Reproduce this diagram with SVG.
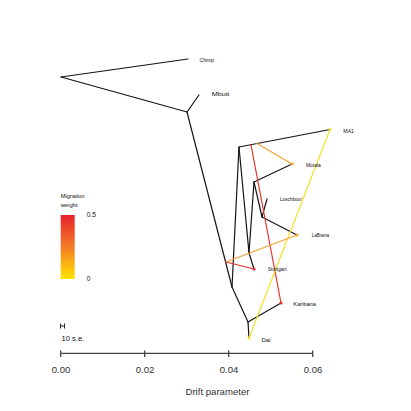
<svg xmlns="http://www.w3.org/2000/svg" width="411" height="411" viewBox="0 0 411 411">
<defs>
<linearGradient id="migGrad" x1="0" y1="0" x2="0" y2="1">
<stop offset="0" stop-color="#E8222C"/>
<stop offset="0.5" stop-color="#F47C28"/>
<stop offset="1" stop-color="#FFE400"/>
</linearGradient>
</defs>
<style>
.edge{stroke:#151515;stroke-width:1.2;fill:none;stroke-linecap:round}
.mig{stroke-width:1.2;fill:none;stroke-linecap:round}
.red{stroke:#E8302C}
.org{stroke:#F2A332}
.yel{stroke:#F8E02A}
.tip{font-family:"Liberation Sans",Arial,sans-serif;font-size:5.6px;fill:#111}
.leg{font-family:"Liberation Sans",Arial,sans-serif;font-size:5.8px;fill:#111}
.axt{font-family:"Liberation Sans",Arial,sans-serif;font-size:9.6px;fill:#333;text-anchor:middle}
.axis{stroke:#444;stroke-width:1.3;fill:none}
</style>
<rect width="411" height="411" fill="#ffffff"/>

<g id="connectors">
<line class="edge" x1="61" y1="77" x2="188" y2="59"/>
<line class="edge" x1="61" y1="77" x2="187" y2="112"/>
<line class="edge" x1="187" y1="112" x2="199" y2="95"/>
<line class="edge" x1="187" y1="112" x2="232" y2="287"/>
<line class="edge" x1="232" y1="287" x2="248" y2="322"/>
<line class="edge" x1="248" y1="322" x2="249" y2="338"/>
<line class="edge" x1="248" y1="322" x2="281" y2="303"/>
<line class="edge" x1="232" y1="287" x2="239" y2="147"/>
<line class="edge" x1="239" y1="147" x2="330" y2="129.5"/>
<line class="edge" x1="239" y1="147" x2="249" y2="253"/>
<line class="edge" x1="249" y1="253" x2="254" y2="269"/>
<line class="edge" x1="249" y1="253" x2="254" y2="182"/>
<line class="edge" x1="254" y1="182" x2="292" y2="164"/>
<line class="edge" x1="254" y1="182" x2="262" y2="217"/>
<line class="edge" x1="262" y1="217" x2="267" y2="199"/>
<line class="edge" x1="262" y1="217" x2="297" y2="235"/>
<line class="mig red" x1="251" y1="145" x2="281" y2="303"/>
<line class="mig org" x1="257" y1="143.5" x2="292" y2="164"/>
<line class="mig yel" x1="330" y1="129.5" x2="249" y2="338"/>
<line class="mig org" x1="297" y1="235" x2="226" y2="262"/>
<line class="mig red" x1="226" y1="262" x2="254" y2="269"/>
</g>

<g id="node-chimp"><text class="tip" x="199.5" y="62" textLength="14.7" lengthAdjust="spacingAndGlyphs">Chimp</text></g>
<g id="node-mbuti"><text class="tip" x="211.7" y="96.3" textLength="17.7" lengthAdjust="spacingAndGlyphs">Mbuti</text></g>
<g id="node-ma1"><circle cx="330" cy="129.5" r="1.4" fill="#F8D82A"/><text class="tip" x="343.3" y="132.5" textLength="10.7" lengthAdjust="spacingAndGlyphs">MA1</text></g>
<g id="node-motala"><circle cx="292" cy="164" r="1.6" fill="#F2A332"/><text class="tip" x="306" y="167" textLength="14.7" lengthAdjust="spacingAndGlyphs">Motala</text></g>
<g id="node-loschbour"><text class="tip" x="280" y="201.3" textLength="21.7" lengthAdjust="spacingAndGlyphs">Loschbour</text></g>
<g id="node-labrana"><circle cx="297" cy="235" r="1.6" fill="#F2A332"/><text class="tip" x="311.7" y="236.7" textLength="17.3" lengthAdjust="spacingAndGlyphs">LaBrana</text></g>
<g id="node-stuttgart"><circle cx="254" cy="269" r="1.6" fill="#E8302C"/><text class="tip" x="267.7" y="271.3" textLength="19" lengthAdjust="spacingAndGlyphs">Stuttgart</text></g>
<g id="node-karitiana"><circle cx="281" cy="303" r="1.6" fill="#E8302C"/><text class="tip" x="293.3" y="306.3" textLength="22.7" lengthAdjust="spacingAndGlyphs">Karitiana</text></g>
<g id="node-dai"><circle cx="249" cy="338" r="1.6" fill="#F8E02A"/><text class="tip" x="261.5" y="342" textLength="9" lengthAdjust="spacingAndGlyphs">Dai</text></g>

<g id="legend">
<text class="leg" x="60.7" y="197.7">Migration</text>
<text class="leg" x="60.7" y="207">weight</text>
<rect x="60.7" y="215" width="14" height="64" fill="url(#migGrad)"/>
<text class="leg" x="86.7" y="217.3" style="font-size:6.6px">0.5</text>
<text class="leg" x="86.7" y="281.3" style="font-size:6.6px">0</text>
</g>

<g id="scale">
<path d="M60.5,323.5 v5 M64.5,323.5 v5 M60.5,326 h4" stroke="#222" stroke-width="1" fill="none"/>
<text class="leg" x="61.5" y="341" style="font-size:7.6px">10 s.e.</text>
</g>

<g id="axis">
<path class="axis" d="M60.7,353.3 H312.7 M60.7,350.5 V357 M144.7,350.5 V357 M228.7,350.5 V357 M312.7,350.5 V357"/>
<text class="axt" x="61" y="372.6">0.00</text>
<text class="axt" x="145" y="372.6">0.02</text>
<text class="axt" x="229" y="372.6">0.04</text>
<text class="axt" x="313" y="372.6">0.06</text>
<text class="axt" x="217.5" y="395">Drift parameter</text>
</g>
</svg>
